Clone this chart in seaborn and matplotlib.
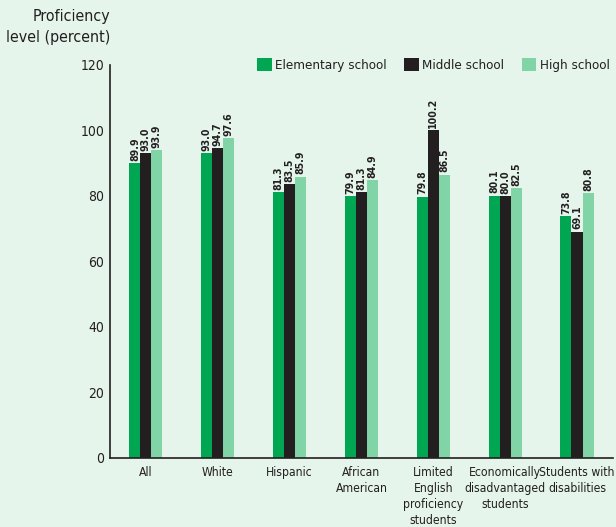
import matplotlib
matplotlib.use("Agg")
import matplotlib.pyplot as plt
from matplotlib import font_manager
import seaborn as sns
import pandas as pd

categories = ["All", "White", "Hispanic", "African\nAmerican",
              "Limited\nEnglish\nproficiency\nstudents",
              "Economically\ndisadvantaged\nstudents",
              "Students with\ndisabilities"]
elementary = [89.9, 93.0, 81.3, 79.9, 79.8, 80.1, 73.8]
middle = [93.0, 94.7, 83.5, 81.3, 100.2, 80.0, 69.1]
high = [93.9, 97.6, 85.9, 84.9, 86.5, 82.5, 80.8]
series_names = ["Elementary school", "Middle school", "High school"]
y_ticks = [0, 20, 40, 60, 80, 100, 120]

bg = "#e5f5ec"
ink = "#231f20"
palette = ["#00a651", ink, "#80d4a6"]

rows = []
for name, vals in zip(series_names, [elementary, middle, high]):
    for c, v in zip(categories, vals):
        rows.append({"group": c, "level": name, "value": v})
df = pd.DataFrame(rows)

sns.set_style("white")

# use the condensed DejaVu face when it is installed
has_condensed = any(f.name == "DejaVu Sans" and str(f.stretch).endswith("condensed")
                    for f in font_manager.fontManager.ttflist)
if has_condensed:
    plt.rcParams["font.family"] = ["DejaVu Sans"]
    plt.rcParams["font.stretch"] = "condensed"
    scale = 1.0
else:
    plt.rcParams["font.family"] = ["Liberation Sans", "DejaVu Sans"]
    scale = 0.9

fig = plt.figure(figsize=(6.16, 5.27), dpi=100, facecolor=bg)
ax = fig.add_axes([0.1786, 0.131, 0.8164, 0.746])
ax.set_facecolor(bg)

sns.barplot(data=df, x="group", y="value", hue="level", order=categories,
            hue_order=series_names, palette=palette, width=0.46,
            saturation=1, linewidth=0, ax=ax, legend=True)

for cont in ax.containers:
    ax.bar_label(cont, labels=[f"{v:.1f}" for v in cont.datavalues],
                 rotation=90, padding=1.5, fontsize=7.6 * scale,
                 fontweight="bold", color=ink)

ax.set_ylim(0, 120)
ax.set_xlim(-0.5, 6.5)
ax.set_yticks(y_ticks)
ax.tick_params(axis="y", length=0, pad=4, labelsize=10, colors=ink)
ax.tick_params(axis="x", length=0, pad=6, labelsize=8.7 * scale, colors=ink)
for lbl in ax.get_xticklabels():
    lbl.set_linespacing(1.3)
ax.set_xlabel("")
ax.set_ylabel("")
for s in ["top", "right"]:
    ax.spines[s].set_visible(False)
for s in ["left", "bottom"]:
    ax.spines[s].set_color(ink)
    ax.spines[s].set_linewidth(1.2)

leg = ax.legend(loc="upper right", bbox_to_anchor=(1.004, 1.03), ncol=3,
                frameon=False, fontsize=9.6 * scale, handlelength=1.1,
                handleheight=1.1, handletextpad=0.25, columnspacing=1.3,
                borderaxespad=0)
for t in leg.get_texts():
    t.set_color(ink)

fig.text(0.179, 0.982, "Proficiency\nlevel (percent)", ha="right", va="top",
         fontsize=11.4 * scale, color=ink, linespacing=1.5)

fig.savefig("out.png", dpi=100, facecolor=bg)
